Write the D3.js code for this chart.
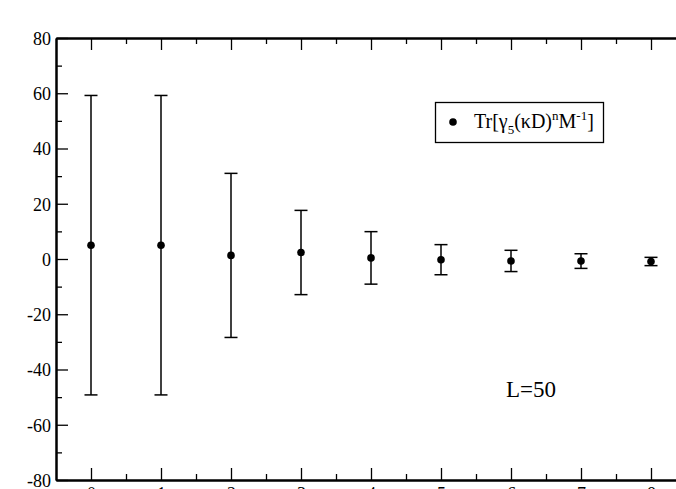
<!DOCTYPE html>
<html>
<head>
<meta charset="utf-8">
<script src="https://cdn.jsdelivr.net/npm/d3@7"></script>
<style>
  body { margin: 0; background: #fff; }
  svg { display: block; }
  text { font-family: "Liberation Serif", "DejaVu Serif", serif; }
  .axis path { stroke: #000; stroke-width: 2; }
  .axis line { stroke: #000; stroke-width: 1.3; }
</style>
</head>
<body>
<svg id="chart" width="676" height="489"></svg>
<script>
// data
const orders = [0, 1, 2, 3, 4, 5, 6, 7, 8]
const traceValues = [5.0, 5.0, 1.3, 2.35, 0.4, -0.25, -0.7, -0.75, -0.9]
const traceErrors = [54.2, 54.2, 29.7, 15.25, 9.5, 5.45, 3.85, 2.65, 1.5]
const yMajorTicks = [-80, -60, -40, -20, 0, 20, 40, 60, 80]
const yMinorTicks = [-70, -50, -30, -10, 10, 30, 50, 70]
const xMajorTicks = [0, 1, 2, 3, 4, 5, 6, 7, 8]
const xMinorTicks = [0.5, 1.5, 2.5, 3.5, 4.5, 5.5, 6.5, 7.5]

const $svg = d3.select('#chart')

const MARGIN = { top: 38, left: 56 }
const plotRight = 686
const plotBottom = 480
const SERIF = '"Liberation Serif", "Times New Roman", serif'

const xScale = d3.scaleLinear().domain([-0.5, 8.5]).range([MARGIN.left, plotRight])
const yScale = d3.scaleLinear().domain([-80, 80]).range([plotBottom, MARGIN.top])

const dataset = orders.map((n, i) => ({ n, v: traceValues[i], e: traceErrors[i] }))

// minor ticks
$svg.append('g').attr('class', 'axis')
  .attr('transform', `translate(${MARGIN.left},0)`)
  .call(d3.axisLeft(yScale).tickValues(yMinorTicks).tickSizeInner(-6).tickSizeOuter(0).tickFormat(''))
$svg.append('g').attr('class', 'axis')
  .attr('transform', `translate(0,${plotBottom})`)
  .call(d3.axisBottom(xScale).tickValues(xMinorTicks).tickSizeInner(-6).tickSizeOuter(0).tickFormat(''))
$svg.append('g').attr('class', 'axis')
  .attr('transform', `translate(0,${MARGIN.top})`)
  .call(d3.axisTop(xScale).tickValues(xMinorTicks).tickSizeInner(-6).tickSizeOuter(0).tickFormat(''))

// major ticks
const yAxis = $svg.append('g').attr('class', 'axis')
  .attr('transform', `translate(${MARGIN.left},0)`)
  .call(d3.axisLeft(yScale).tickValues(yMajorTicks).tickSizeInner(-12).tickSizeOuter(0).tickFormat(d3.format('d')))
  .attr('font-family', SERIF)
  .attr('font-size', 18)
yAxis.selectAll('text')
  .attr('x', -5)
  .attr('dy', '0.35em')
  .attr('fill', '#000')
  .text(d => d < 0 ? '-' + Math.abs(d) : d)

const xAxis = $svg.append('g').attr('class', 'axis')
  .attr('transform', `translate(0,${plotBottom})`)
  .call(d3.axisBottom(xScale).tickValues(xMajorTicks).tickSizeInner(-12).tickSizeOuter(0))
  .attr('font-family', SERIF)
  .attr('font-size', 18)
xAxis.selectAll('text')
  .attr('y', 7)
  .attr('dy', '0.71em')
  .attr('fill', '#000')

$svg.append('g').attr('class', 'axis')
  .attr('transform', `translate(0,${MARGIN.top})`)
  .call(d3.axisTop(xScale).tickValues(xMajorTicks).tickSizeInner(-12).tickSizeOuter(0).tickFormat(''))

// error bars
const $bars = $svg.append('g').selectAll('g.err')
  .data(dataset).enter().append('g').attr('class', 'err')
  .attr('stroke', '#000').attr('stroke-width', 1.5)
$bars.append('line')
  .attr('x1', d => xScale(d.n)).attr('x2', d => xScale(d.n))
  .attr('y1', d => yScale(d.v + d.e)).attr('y2', d => yScale(d.v - d.e))
$bars.append('line')
  .attr('x1', d => xScale(d.n) - 6.5).attr('x2', d => xScale(d.n) + 6.5)
  .attr('y1', d => yScale(d.v + d.e)).attr('y2', d => yScale(d.v + d.e))
$bars.append('line')
  .attr('x1', d => xScale(d.n) - 6.5).attr('x2', d => xScale(d.n) + 6.5)
  .attr('y1', d => yScale(d.v - d.e)).attr('y2', d => yScale(d.v - d.e))

$svg.append('g').selectAll('circle')
  .data(dataset).enter().append('circle')
  .attr('cx', d => xScale(d.n))
  .attr('cy', d => yScale(d.v))
  .attr('r', 3.8)
  .attr('fill', '#000')

// legend
const $legend = $svg.append('g')
$legend.append('rect')
  .attr('x', 435.5).attr('y', 102.5).attr('width', 168).attr('height', 40)
  .attr('fill', '#fff').attr('stroke', '#000').attr('stroke-width', 1.3)
$legend.append('circle').attr('cx', 453).attr('cy', 122).attr('r', 3.8).attr('fill', '#000')
const $lt = $legend.append('text').attr('x', 474).attr('y', 128).style('font-size', '20px')
$lt.append('tspan').text('Tr[γ')
$lt.append('tspan').attr('dy', 6).style('font-size', '13px').text('5')
$lt.append('tspan').attr('dy', -6).text('(κD)')
$lt.append('tspan').attr('dy', -8).style('font-size', '13px').text('n')
$lt.append('tspan').attr('dy', 8).text('M')
$lt.append('tspan').attr('dy', -8).style('font-size', '13px').text('-1')
$lt.append('tspan').attr('dy', 8).text(']')

$svg.append('text')
  .attr('x', 506).attr('y', 397)
  .style('font-size', '23px')
  .text('L=50')
</script>
</body>
</html>
